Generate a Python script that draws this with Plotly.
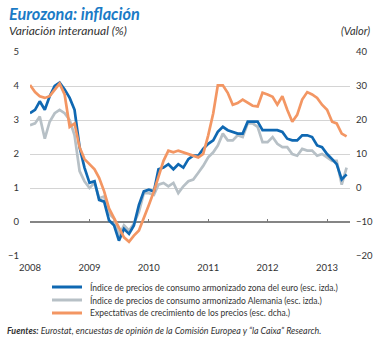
import pandas as pd
import plotly.graph_objects as go

# Monthly observations, January 2008 - May 2013
months = pd.date_range("2008-01-01", "2013-05-01", freq="MS")

# HICP euro area, year-on-year change (%) - left scale
hicp_euro = [
    3.2, 3.3, 3.55, 3.3, 3.7, 4.0, 4.1, 3.9, 3.65, 3.3, 2.2, 1.6,
    1.15, 1.2, 0.65, 0.6, 0.05, -0.1, -0.55, -0.2, -0.35, -0.1, 0.5, 0.9,
    0.95, 0.9, 1.55, 1.6, 1.7, 1.55, 1.7, 1.6, 1.85, 1.95, 1.95, 2.15,
    2.3, 2.4, 2.65, 2.8, 2.7, 2.65, 2.6, 2.6, 2.95, 2.95, 2.95, 2.7,
    2.7, 2.7, 2.7, 2.65, 2.45, 2.4, 2.4, 2.55, 2.55, 2.5, 2.25, 2.2,
    2.0, 1.85, 1.7, 1.25, 1.4,
]

# HICP Germany, year-on-year change (%) - left scale
hicp_germany = [
    2.85, 2.9, 3.1, 2.45, 2.95, 3.2, 3.3, 3.2, 3.0, 2.55, 1.5, 1.2,
    1.0, 1.15, 0.7, 0.75, 0.25, 0.1, -0.4, -0.1, -0.25, -0.05, 0.3, 0.85,
    0.85, 0.8, 1.1, 1.15, 1.05, 1.15, 0.85, 1.05, 1.2, 1.25, 1.45, 1.65,
    1.9, 2.05, 2.25, 2.6, 2.4, 2.4, 2.55, 2.5, 2.9, 2.9, 2.8, 2.35,
    2.35, 2.5, 2.3, 2.2, 2.2, 2.0, 1.95, 2.15, 2.1, 2.1, 1.95, 2.0,
    1.9, 1.8, 1.8, 1.1, 1.6,
]

# Consumer price expectations (balance) - right scale
price_expectations = [
    30.3, 28.2, 27.0, 26.5, 27.0, 29.0, 30.7, 27.5, 18.0, 19.0, 12.0, 8.5,
    7.0, 5.5, 3.0, -1.0, -6.0, -9.0, -11.5, -14.5, -15.8, -14.0, -12.5, -9.0,
    -5.0, -1.0, 3.5, 8.0, 11.0, 10.5, 11.0, 10.5, 10.0, 9.7, 9.0, 10.0,
    15.5, 22.0, 30.2, 30.2, 28.0, 24.5, 25.0, 26.0, 25.0, 24.2, 24.0, 28.0,
    27.5, 26.8, 24.5, 27.0, 23.0, 19.5, 21.5, 26.0, 28.2, 27.5, 26.5, 24.5,
    23.0, 19.5, 19.0, 16.0, 15.2,
]

left_ticks = [5, 4, 3, 2, 1, 0, -1]
right_ticks = [40, 30, 20, 10, 0, -10, -20]
year_ticks = ["2008-01-01", "2009-01-01", "2010-01-01", "2011-01-01", "2012-01-01", "2013-01-01"]
year_labels = ["2008", "2009", "2010", "2011", "2012", "2013"]

names = [
    "Índice de precios de consumo armonizado zona del euro (esc. izda.)",
    "Índice de precios de consumo armonizado Alemania (esc. izda.)",
    "Expectativas de crecimiento de los precios (esc. dcha.)",
]

BLUE = "#0f68b2"
GREY = "#b7c0c6"
ORANGE = "#f39663"
TITLE_BLUE = "#1b7bc6"
TEXT = "#333333"
FONT = "Lato, 'Open Sans', sans-serif"

W, H = 378, 338
ML, MR, MT, MB = 30, 28, 52, 82
PW, PH = W - ML - MR, H - MT - MB


def px(x):
    return (x - ML) / PW


def py(y):
    return (H - MB - y) / PH


fig = go.Figure()

fig.add_trace(go.Scatter(x=months, y=hicp_germany, name=names[1], mode="lines",
                         line=dict(color=GREY, width=2.7), yaxis="y"))
fig.add_trace(go.Scatter(x=months, y=hicp_euro, name=names[0], mode="lines",
                         line=dict(color=BLUE, width=2.7), yaxis="y"))
fig.add_trace(go.Scatter(x=months, y=price_expectations, name=names[2], mode="lines",
                         line=dict(color=ORANGE, width=2.7), yaxis="y2"))

x_range = ["2008-01-01", "2013-05-22"]

fig.update_layout(
    width=W, height=H,
    margin=dict(l=ML, r=MR, t=MT, b=MB, autoexpand=False),
    paper_bgcolor="white", plot_bgcolor="white",
    font=dict(family=FONT, size=9.5, color=TEXT),
    showlegend=False,
    xaxis=dict(
        type="date", range=x_range,
        tickvals=year_ticks, ticktext=year_labels,
        showgrid=False, zeroline=False, showline=False,
        ticks="", ticklabelstandoff=4, tickfont=dict(size=9.5, color=TEXT),
    ),
    xaxis2=dict(
        type="date", range=x_range, overlaying="x",
        anchor="free", position=1 / 6,
        tickvals=year_ticks, showticklabels=False,
        ticks="inside", ticklen=3, tickcolor="#7a7a7a", tickwidth=1,
        showgrid=False, zeroline=False, showline=False,
    ),
    yaxis=dict(
        range=[-1, 5], tickvals=left_ticks,
        showgrid=True, gridcolor="#d4d4d4", gridwidth=1,
        zeroline=True, zerolinecolor="#858585", zerolinewidth=1.5,
        showline=False, ticks="", ticklabelstandoff=10,
        tickfont=dict(size=9.5, color=TEXT),
    ),
    yaxis2=dict(
        range=[-20, 40], tickvals=right_ticks, overlaying="y", side="right",
        showgrid=False, zeroline=False, showline=False, ticks="",
        ticklabelstandoff=5, tickfont=dict(size=9.5, color=TEXT),
    ),
)

# invisible trace to activate the tick-only axis along the zero line
fig.add_trace(go.Scatter(x=[months[0]], y=[None], xaxis="x2", yaxis="y",
                         showlegend=False, hoverinfo="skip"))

# legend: coloured key line plus series name, one row each
legend_rows = [(names[0], BLUE, 287), (names[1], GREY, 300), (names[2], ORANGE, 313)]
for label, colour, row_y in legend_rows:
    fig.add_shape(type="line", xref="paper", yref="paper",
                  x0=px(52), x1=px(82), y0=py(row_y), y1=py(row_y),
                  line=dict(color=colour, width=3))
    fig.add_annotation(x=px(88), y=py(row_y), xref="paper", yref="paper",
                       xanchor="left", yanchor="middle", showarrow=False,
                       text=label, font=dict(size=8.5, color=TEXT, family=FONT))

fig.add_annotation(x=px(7), y=py(13), xref="paper", yref="paper",
                   xanchor="left", yanchor="middle", showarrow=False,
                   text="<b><i>Eurozona: inflación</i></b>",
                   font=dict(size=16.3, color=TITLE_BLUE, family=FONT))
fig.add_annotation(x=px(7), y=py(31), xref="paper", yref="paper",
                   xanchor="left", yanchor="middle", showarrow=False,
                   text="<i>Variación interanual (%)</i>",
                   font=dict(size=12, color=TEXT, family=FONT))
fig.add_annotation(x=px(372), y=py(31), xref="paper", yref="paper",
                   xanchor="right", yanchor="middle", showarrow=False,
                   text="<i>(Valor)</i>",
                   font=dict(size=11, color=TEXT, family=FONT))
fig.add_annotation(x=px(5), y=py(330), xref="paper", yref="paper",
                   xanchor="left", yanchor="middle", showarrow=False,
                   text="<b><i>Fuentes:</i></b><i> Eurostat, encuestas de opinión de la Comisión Europea y “la Caixa” Research.</i>",
                   font=dict(size=8.9, color=TEXT, family=FONT))

fig.write_html("out.html")
